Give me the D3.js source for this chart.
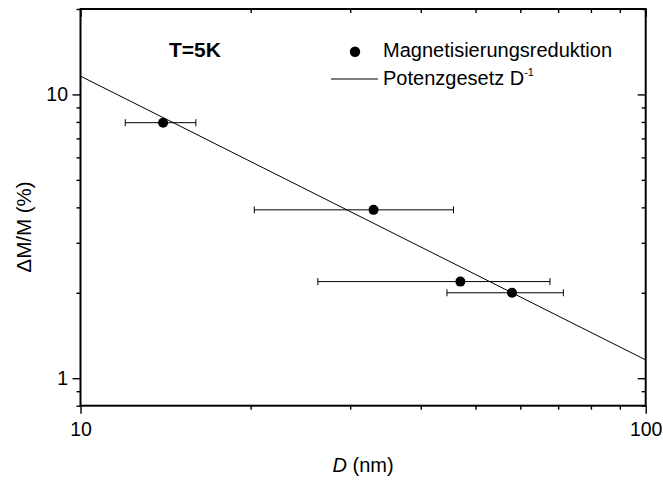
<!DOCTYPE html>
<html>
<head>
<meta charset="utf-8">
<script src="https://cdn.jsdelivr.net/npm/d3@7"></script>
<style>
  body { margin: 0; background: #fff; }
  svg text { font-family: "Liberation Sans", Arial, sans-serif; fill: #000; }
</style>
</head>
<body>
<svg id="chart" width="663" height="480"></svg>
<script>
// Magnetisation reduction vs. particle size, T = 5 K
const sizes = [14, 33, 47, 58];          // D (nm)
const sizeErr = [2, 12.7, 20.7, 13.5];   // ± D (nm)
const reduction = [7.95, 3.92, 2.19, 2.0]; // ΔM/M (%)

// power-law fit line endpoints (D^-1)
const fitD = [10, 100];
const fitM = [11.6, 1.16];

const xTicks = [10, 20, 30, 40, 50, 60, 70, 80, 90, 100];
const yTicks = [0.8, 0.9, 1, 2, 3, 4, 5, 6, 7, 8, 9, 10, 20];
const xLabels = [10, 100];
const yLabels = [1, 10];

const W = 663, H = 480;
const m = { top: 9, right: 17.3, bottom: 74.3, left: 80.5 };
const iW = W - m.left - m.right, iH = H - m.top - m.bottom;

const x = d3.scaleLog([10, 100], [0, iW]);
const y = d3.scaleLog([0.8, 20], [iH, 0]);

const svg = d3.select("#chart");
const g = svg.append("g").attr("transform", `translate(${m.left},${m.top})`);

const isMajor = (v) => Math.abs(Math.log10(v) - Math.round(Math.log10(v))) < 1e-9;

// bottom axis (outward ticks, labelled)
const bx = g.append("g").attr("transform", `translate(0,${iH})`)
  .call(d3.axisBottom(x).tickValues(xTicks).tickSizeOuter(0)
    .tickFormat((d) => (xLabels.includes(d) ? d : "")));
bx.selectAll(".tick line").attr("y2", (d) => (isMajor(d) ? 8 : 4));
bx.selectAll(".tick text").attr("y", 30).attr("dy", null);

// top axis (inward ticks)
const tx = g.append("g")
  .call(d3.axisTop(x).tickValues(xTicks).tickSizeOuter(0).tickFormat(""));
tx.selectAll(".tick line").attr("y2", (d) => (isMajor(d) ? 8 : 4));

// left axis (outward ticks, labelled)
const ly = g.append("g")
  .call(d3.axisLeft(y).tickValues(yTicks).tickSizeOuter(0)
    .tickFormat((d) => (yLabels.includes(d) ? d : "")));
ly.selectAll(".tick line").attr("x2", (d) => (isMajor(d) ? -8 : -4));
ly.selectAll(".tick text").attr("x", -12.5);

// right axis (inward ticks)
const ry = g.append("g").attr("transform", `translate(${iW},0)`)
  .call(d3.axisRight(y).tickValues(yTicks).tickSizeOuter(0).tickFormat(""));
ry.selectAll(".tick line").attr("x2", (d) => (isMajor(d) ? -8 : -4));

svg.selectAll(".domain").remove();
svg.selectAll(".tick line").attr("stroke", "#000").attr("stroke-width", 1.4);
svg.selectAll(".tick text").attr("font-size", 19.5).attr("fill", "#000");

// frame
g.append("rect").attr("x", 0).attr("y", 0).attr("width", iW).attr("height", iH)
  .attr("fill", "none").attr("stroke", "#000").attr("stroke-width", 2);

// clip for the fit line
g.append("clipPath").attr("id", "plot-clip").append("rect")
  .attr("width", iW).attr("height", iH);

const line = d3.line().x((d, i) => x(fitD[i])).y((d) => y(d));
g.append("path").datum(fitM).attr("d", line).attr("fill", "none")
  .attr("stroke", "#000").attr("stroke-width", 1).attr("clip-path", "url(#plot-clip)");

// error bars
const pts = sizes.map((d, i) => ({ d, e: sizeErr[i], v: reduction[i] }));
const eb = g.append("g").attr("stroke", "#000").attr("stroke-width", 1);
pts.forEach((p) => {
  const yy = y(p.v), x0 = x(p.d - p.e), x1 = x(p.d + p.e);
  eb.append("line").attr("x1", x0).attr("x2", x1).attr("y1", yy).attr("y2", yy);
  eb.append("line").attr("x1", x0).attr("x2", x0).attr("y1", yy - 3.5).attr("y2", yy + 3.5);
  eb.append("line").attr("x1", x1).attr("x2", x1).attr("y1", yy - 3.5).attr("y2", yy + 3.5);
});

g.append("g").selectAll("circle").data(pts).join("circle")
  .attr("cx", (p) => x(p.d)).attr("cy", (p) => y(p.v)).attr("r", 5).attr("fill", "#000");

// annotation
g.append("text").attr("x", 169 - m.left).attr("y", 56.7 - m.top)
  .attr("font-size", 21).attr("font-weight", "bold").text("T=5K");

// legend
const lg = svg.append("g");
lg.append("circle").attr("cx", 355).attr("cy", 51.7).attr("r", 5.2).attr("fill", "#000");
lg.append("text").attr("x", 383).attr("y", 57.3).attr("font-size", 20).text("Magnetisierungsreduktion");
lg.append("line").attr("x1", 331).attr("x2", 378).attr("y1", 79).attr("y2", 79)
  .attr("stroke", "#000").attr("stroke-width", 1);
const lt = lg.append("text").attr("x", 383).attr("y", 84.7).attr("font-size", 20);
lt.append("tspan").text("Potenzgesetz D");
lt.append("tspan").attr("font-size", 11).attr("dy", -9).text("-1");

// axis titles
const xt = svg.append("text").attr("x", m.left + iW / 2).attr("y", 472)
  .attr("text-anchor", "middle").attr("font-size", 20);
xt.append("tspan").attr("font-style", "italic").text("D");
xt.append("tspan").text(" (nm)");

svg.append("text").attr("transform", "translate(31,227) rotate(-90)")
  .attr("text-anchor", "middle").attr("font-size", 20.5).text("ΔM/M (%)");
</script>
</body>
</html>
